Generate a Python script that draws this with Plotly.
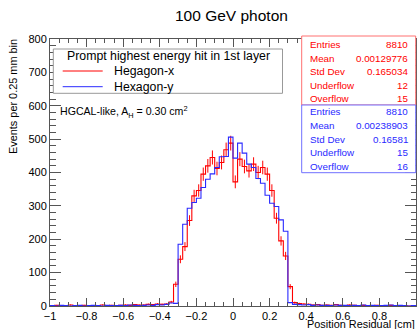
import numpy as np
import plotly.graph_objects as go

# ---------------- data ----------------
x_min, x_max, n_bins = -1.0, 1.0, 80
title_text = "100 GeV photon"
x_title = "Position Residual [cm]"
y_title = "Events per 0.25 mm bin"
legend_header = "Prompt highest energy hit in 1st layer"
series_names = ["Hegagon-x", "Hexagon-y"]

red_counts = [0, 2, 0, 1, 3, 1, 0, 2, 1, 0,
              1, 3, 0, 2, 1, 2, 3, 2, 4, 3,
              3, 5, 4, 6, 5, 6, 12, 65, 140, 178,
              256, 330, 346, 395, 420, 445, 412, 430, 468, 488,
              372, 440, 418, 405, 425, 400, 415, 395, 346, 263,
              195, 150, 58, 10, 7, 6, 5, 3, 4, 2,
              3, 2, 4, 2, 1, 3, 2, 1, 2, 0,
              1, 2, 0, 1, 2, 1, 0, 1, 0, 1]

blue_counts = [1, 0, 2, 1, 0, 1, 2, 0, 1, 2,
               1, 0, 2, 1, 1, 2, 1, 3, 2, 1,
               2, 3, 2, 4, 3, 5, 9, 8, 185, 245,
               293, 310, 323, 355, 380, 396, 415, 447, 448, 506,
               443, 488, 458, 425, 415, 382, 368, 332, 308, 298,
               258, 224, 10, 5, 4, 3, 4, 2, 3, 2,
               2, 1, 3, 2, 2, 1, 2, 1, 3, 1,
               2, 1, 1, 2, 3, 1, 2, 1, 0, 1]

stat_labels = ["Entries", "Mean", "Std Dev", "Underflow", "Overflow"]
red_stats = ["8810", "0.00129776", "0.165034", "12", "15"]
blue_stats = ["8810", "0.00238903", "0.16581", "15", "16"]

# ---------------- style ----------------
RED = "#ff0000"
BLUE = "#2a2aff"
FONT = "Liberation Sans, Arial, Helvetica, sans-serif"
W, H = 418, 329
L, R, T, B = 50, 2, 39, 23
PW, PH = W - L - R, H - T - B


def fx(px):
    return (px - L) / PW


def fy(py):
    return (H - B - py) / PH


edges = np.linspace(x_min, x_max, n_bins + 1)
centers = 0.5 * (edges[:-1] + edges[1:])
red = np.array(red_counts, dtype=float)
blue = np.array(blue_counts, dtype=float)

fig = go.Figure()

# red histogram (step)
fig.add_trace(go.Scatter(
    x=list(edges[:-1]) + [edges[-1]], y=list(red) + [red[-1]],
    mode="lines", line=dict(color=RED, width=1.1, shape="hv"),
    name=series_names[0], showlegend=False, hoverinfo="skip"))
# red error bars
mask = red > 0
fig.add_trace(go.Scatter(
    x=centers[mask], y=red[mask], mode="markers",
    marker=dict(size=1, color=RED, opacity=0),
    error_y=dict(type="data", array=np.sqrt(red[mask]), color=RED,
                 thickness=1, width=0),
    showlegend=False, hoverinfo="skip"))
# blue histogram (step)
fig.add_trace(go.Scatter(
    x=list(edges[:-1]) + [edges[-1]], y=list(blue) + [blue[-1]],
    mode="lines", line=dict(color=BLUE, width=1.1, shape="hv"),
    name=series_names[1], showlegend=False, hoverinfo="skip"))

axis_col = "#555555"
fig.update_xaxes(range=[x_min, x_max], dtick=0.2, tick0=-1, ticks="inside",
                 ticklen=8, tickcolor=axis_col, showline=True,
                 linecolor=axis_col, linewidth=1, mirror="allticks",
                 showgrid=False, zeroline=False,
                 tickfont=dict(family=FONT, size=11, color="#000"),
                 minor=dict(dtick=0.05, tick0=-1, ticks="inside", ticklen=4,
                            tickcolor=axis_col, showgrid=False))
fig.update_yaxes(range=[0, 800], dtick=100, tick0=0, ticks="inside",
                 ticklen=11, tickcolor=axis_col, showline=True,
                 linecolor=axis_col, linewidth=1, mirror="allticks",
                 showgrid=False, zeroline=False,
                 tickfont=dict(family=FONT, size=11, color="#000"),
                 minor=dict(dtick=20, tick0=0, ticks="inside", ticklen=5.5,
                            tickcolor=axis_col, showgrid=False))

shapes = []
ann = []

# legend box
shapes.append(dict(type="rect", xref="paper", yref="paper",
                   x0=fx(53.3), x1=fx(282.5), y0=fy(93.3), y1=fy(49),
                   line=dict(color="#999999", width=1), fillcolor="white",
                   layer="above"))
ann.append(dict(text=legend_header, x=fx(168), y=fy(55.7), xref="paper",
                yref="paper", xanchor="center", yanchor="middle",
                showarrow=False, font=dict(family=FONT, size=12.3, color="#000")))
for name, col, py in [(series_names[0], RED, 71), (series_names[1], BLUE, 86.7)]:
    shapes.append(dict(type="line", xref="paper", yref="paper",
                       x0=fx(62.7), x1=fx(102.7), y0=fy(py), y1=fy(py),
                       line=dict(color=col, width=1), layer="above"))
    ann.append(dict(text=name, x=fx(111.5), y=fy(py), xref="paper",
                    yref="paper", xanchor="left", yanchor="middle",
                    showarrow=False, font=dict(family=FONT, size=12.3, color="#000")))

# stats boxes
box_x0, box_x1 = fx(301.7), fx(415.7)
shapes.append(dict(type="rect", xref="paper", yref="paper",
                   x0=box_x0, x1=box_x1, y0=fy(105), y1=fy(36),
                   line=dict(color="#ff7070", width=1), fillcolor="white",
                   layer="above"))
shapes.append(dict(type="rect", xref="paper", yref="paper",
                   x0=box_x0, x1=box_x1, y0=fy(172.7), y1=fy(105),
                   line=dict(color="#7070ff", width=1), fillcolor="white",
                   layer="above"))
red_rows = [44.8, 58.3, 71.7, 85.0, 98.6]
blue_rows = [111.8, 125.5, 139.0, 152.4, 166.0]
for vals, rows, col in [(red_stats, red_rows, RED), (blue_stats, blue_rows, BLUE)]:
    for lab, v, py in zip(stat_labels, vals, rows):
        ann.append(dict(text=lab, x=fx(307.5), y=fy(py), xref="paper",
                        yref="paper", xanchor="left", yanchor="middle",
                        showarrow=False, font=dict(family=FONT, size=9.8, color=col)))
        ann.append(dict(text=v, x=fx(409.8), y=fy(py), xref="paper",
                        yref="paper", xanchor="right", yanchor="middle",
                        showarrow=False, font=dict(family=FONT, size=9.8, color=col)))

# info text
ann.append(dict(text="HGCAL-like, A<sub>H</sub> = 0.30 cm<sup>2</sup>",
                x=fx(57.5), y=fy(112), xref="paper", yref="paper",
                xanchor="left", yanchor="middle", showarrow=False,
                font=dict(family=FONT, size=10.6, color="#000")))
# title
ann.append(dict(text=title_text, x=fx(231.7), y=fy(15.5), xref="paper",
                yref="paper", xanchor="center", yanchor="middle",
                showarrow=False, font=dict(family=FONT, size=15.5, color="#000")))
# axis titles
ann.append(dict(text=x_title, x=fx(416.5), y=fy(324), xref="paper",
                yref="paper", xanchor="right", yanchor="middle",
                showarrow=False, font=dict(family=FONT, size=10.9, color="#000")))
ann.append(dict(text=y_title, x=fx(12.5), y=fy(37), xref="paper",
                yref="paper", xanchor="center", yanchor="top", textangle=-90,
                showarrow=False, font=dict(family=FONT, size=10.9, color="#000")))

fig.update_layout(width=W, height=H,
                  margin=dict(l=L, r=R, t=T, b=B, pad=0),
                  plot_bgcolor="white", paper_bgcolor="white",
                  showlegend=False, shapes=shapes, annotations=ann,
                  font=dict(family=FONT, color="#000"))

fig.write_html("out.html",
               config={"displayModeBar": False, "staticPlot": True},
               post_script="document.body.style.margin='0';"
                           "document.body.style.padding='0';")
